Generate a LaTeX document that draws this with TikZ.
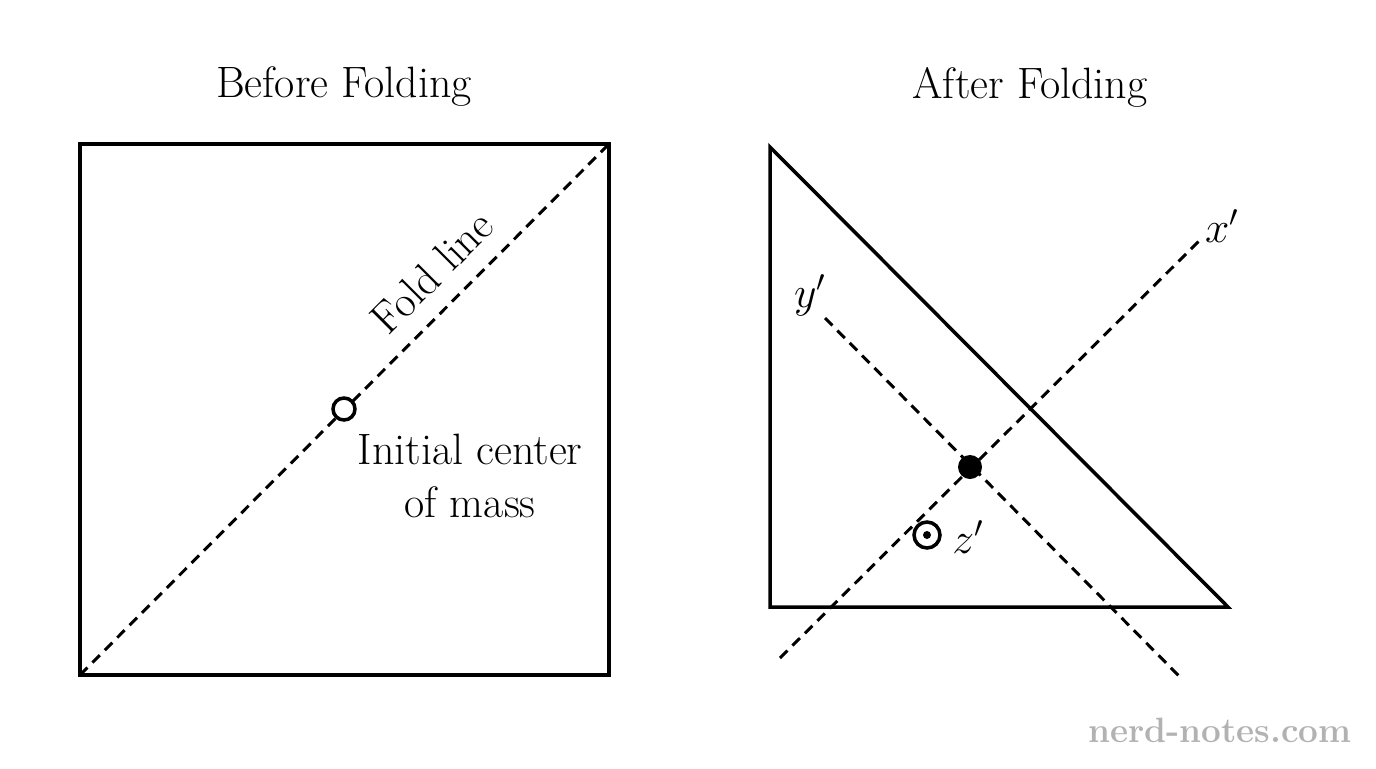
\documentclass[tikz,border=0pt]{standalone}
\begin{document}
\begin{tikzpicture}[x=0.02cm,y=-0.02cm,
  edge/.style={line width=2pt},
  dashln/.style={line width=1.7pt,dash pattern=on 6pt off 4pt},
  lab/.style={font=\fontsize{25}{30}\selectfont,inner sep=0pt}]
\useasboundingbox (0,0) rectangle (1376,768);
\node[lab] (t1) at (344,87) {Before Folding};
\node[lab] (t2) at (1030,87) {After Folding};
\draw[edge] (80,144) rectangle (609,675);
\coordinate (a) at (80,675); \coordinate (b) at (609,144);
\draw[dashln] (a) -- (b);
\draw[line width=2pt,fill=white] (344,409) circle (11);
\node[lab,rotate=45] (fl) at (432,272) {Fold line};
\node[lab,align=center] (cm) at (470,476) {Initial center\\of mass};
\draw[edge] (770,147) -- (770,607) -- (1228,607) -- cycle;
\coordinate (x1) at (780,658); \coordinate (x2) at (1200,240);
\coordinate (y1) at (825,318); \coordinate (y2) at (1180,677);
\draw[dashln] (x1) -- (x2);
\draw[dashln] (y1) -- (y2);
\node[lab] (xl) at (1222,226) {$x'$};
\node[lab] (yl) at (810,295) {$y'$};
\fill (970,467) circle (12);
\draw[line width=2pt,fill=white] (927,535) circle (13);
\fill (927,535) circle (4);
\node[lab] (zl) at (968,537) {$z'$};
\node[font=\fontsize{20}{24}\selectfont\bfseries,text=black!30,inner sep=0pt] (wm) at (1220,730) {nerd-notes.com};
\end{tikzpicture}
\end{document}
